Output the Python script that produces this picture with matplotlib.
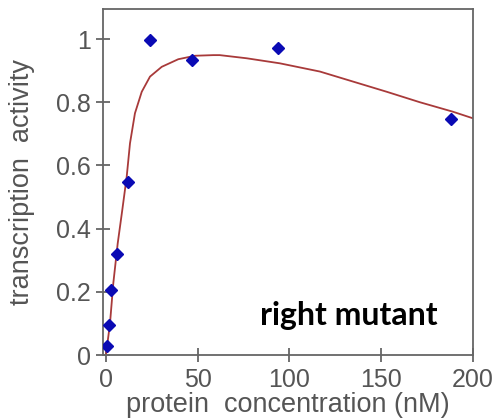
import matplotlib.pyplot as plt

# measured points (blue diamonds)
conc = [0.75, 1.5, 3, 6, 12, 24, 47, 94, 188]
activity = [0.03, 0.095, 0.205, 0.32, 0.548, 0.997, 0.934, 0.973, 0.746]

# fitted curve
fit_x = [0, 2.2, 4.0, 6.4, 8.9, 11.3, 13.1, 15.8, 19.5, 24, 30.4, 39.4, 48.5,
         58.5, 62, 76.7, 94.8, 116.6, 134.8, 153, 171, 189, 200]
fit_y = [0, 0.10, 0.227, 0.353, 0.459, 0.564, 0.670, 0.765, 0.833, 0.881,
         0.912, 0.936, 0.947, 0.949, 0.949, 0.939, 0.923, 0.897, 0.865,
         0.833, 0.80, 0.77, 0.749]

xticks = [0, 50, 100, 150, 200]
yticks = [0, 0.2, 0.4, 0.6, 0.8, 1]
ytick_labels = ['0', '0.2', '0.4', '0.6', '0.8', '1']

plt.rcParams['font.family'] = ['Liberation Sans', 'DejaVu Sans']

fig = plt.figure(figsize=(4.96, 4.18), dpi=100)
ax = fig.add_axes([0.2077, 0.1507, 0.7459, 0.8278])

ax.plot(fit_x, fit_y, color='#a83a3a', lw=1.3, zorder=2)
ax.plot(conc, activity, 'D', color='#0a0ab4', ms=6, mec='#0a0ab4', zorder=3)

ax.set_xlim(-1.6, 200)
ax.set_ylim(0, 1.095)
ax.set_xticks(xticks)
ax.set_yticks(yticks)
ax.set_yticklabels(ytick_labels)

grey = '#555555'
for s in ax.spines.values():
    s.set_color('#666666')
    s.set_linewidth(1.3)
ax.tick_params(direction='inout', length=10, width=1.3, color='#666666',
               labelcolor=grey, labelsize=18, pad=4)

ax.set_xlabel('protein  concentration (nM)', fontsize=19.5, color=grey, labelpad=0)
ax.set_ylabel('transcription  activity', fontsize=19.5, color=grey, labelpad=15)

ax.text(0.425, 0.088, 'right mutant', transform=ax.transAxes, fontsize=23,
        fontweight='bold', family='Lato', color='black')

fig.savefig('out.png', dpi=100, facecolor='white')
